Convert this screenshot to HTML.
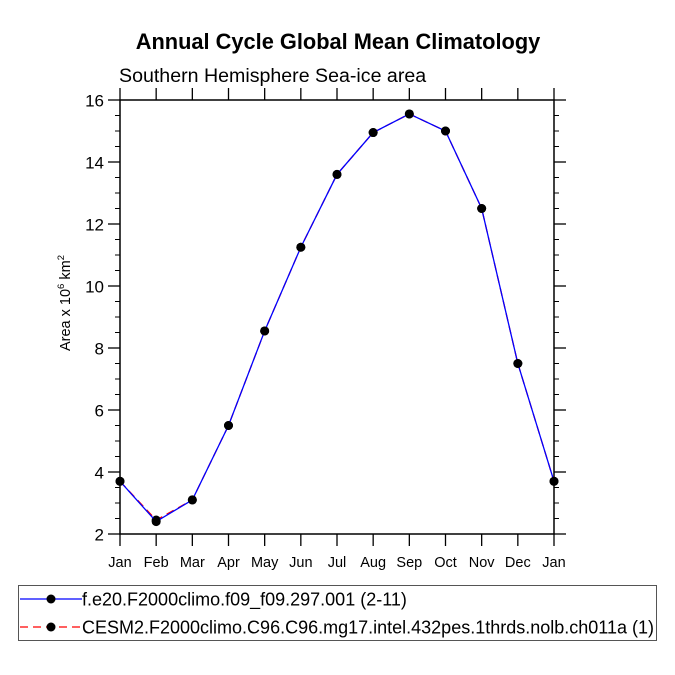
<!DOCTYPE html>
<html><head><meta charset="utf-8"><style>
html,body{margin:0;padding:0;background:#fff;}
svg{display:block;font-family:"Liberation Sans",Arial,sans-serif;}
</style></head><body>
<svg id="chart" width="675" height="675" viewBox="0 0 675 675">
<text x="338" y="49" text-anchor="middle" font-size="21.8" font-weight="bold">Annual Cycle Global Mean Climatology</text>
<text x="119" y="82" font-size="19.6">Southern Hemisphere Sea-ice area</text>
<text transform="translate(70,303) rotate(-90)" text-anchor="middle" font-size="14.5">Area x 10<tspan font-size="9.5" dy="-6">6</tspan><tspan dy="6"> km</tspan><tspan font-size="9.5" dy="-6">2</tspan></text>
<g id="axes"></g>
<g id="series"></g>
<g>
<rect x="18.5" y="585.5" width="638" height="55" fill="none" stroke="#555"/>
<g>
<line x1="20" y1="599" x2="82" y2="599" stroke="#0000ff" stroke-width="1.3"/>
<circle cx="51" cy="599" r="4.5" fill="#000"/>
<text x="82" y="605.5" font-size="18">f.e20.F2000climo.f09_f09.297.001 (2-11)</text>
</g>
<g>
<line x1="20" y1="627" x2="82" y2="627" stroke="#ff0000" stroke-width="1.3" stroke-dasharray="8,5"/>
<circle cx="51" cy="627" r="4.5" fill="#000"/>
<text x="82" y="633.5" font-size="18">CESM2.F2000climo.C96.C96.mg17.intel.432pes.1thrds.nolb.ch011a (1)</text>
</g>
</g>
</svg>
<script>
const months = ["Jan","Feb","Mar","Apr","May","Jun","Jul","Aug","Sep","Oct","Nov","Dec","Jan"];
const seriesA = [3.7,2.4,3.1,5.5,8.55,11.25,13.6,14.95,15.55,15.0,12.5,7.5,3.7];
const seriesB = [3.7,2.45,3.1,5.5,8.55,11.25,13.6,14.95,15.55,15.0,12.5,7.5,3.7];
const yTicks = [2,4,6,8,10,12,14,16];
const NS='http://www.w3.org/2000/svg';
const L=120,R=554,T=100,B=534,ymin=2,ymax=16;
function xs(i){return L+(R-L)*i/(months.length-1);}
function ys(v){return B-(B-T)*(v-ymin)/(ymax-ymin);}
function mk(tag,attrs,parent){const e=document.createElementNS(NS,tag);for(const k in attrs)e.setAttribute(k,attrs[k]);parent.appendChild(e);return e;}
const ax=document.getElementById('axes');
const frame=mk('rect',{x:L,y:T,width:R-L,height:B-T,fill:'none',stroke:'#000','stroke-width':1.5},ax);


for(let v=ymin;v<=ymax+0.001;v+=0.5){
  const major=Math.abs(v-Math.round(v/2)*2)<0.001;
  const len=major?12:5, y=ys(v);
  mk('line',{x1:L-len,y1:y,x2:L,y2:y,stroke:'#000','stroke-width':major?1.3:1},ax);
  mk('line',{x1:R,y1:y,x2:R+len,y2:y,stroke:'#000','stroke-width':major?1.3:1},ax);
}
yTicks.forEach(v=>{
  const t=mk('text',{x:L-16,y:ys(v)+6.5,'text-anchor':'end','font-size':17},ax);
  t.textContent=v;
  
  
});
months.forEach((m,i)=>{
  const x=xs(i);
  mk('line',{x1:x,y1:B,x2:x,y2:B+12,stroke:'#000','stroke-width':1.3},ax);
  mk('line',{x1:x,y1:T-12,x2:x,y2:T,stroke:'#000','stroke-width':1.3},ax);
  const t=mk('text',{x:x,y:B+33,'text-anchor':'middle','font-size':14.5},ax);
  t.textContent=m;
  
  
});
const sg=document.getElementById('series');
function draw(vals,color,dash,name){
  const p=mk('polyline',{points:vals.map((v,i)=>xs(i)+','+ys(v)).join(' '),fill:'none',stroke:color,'stroke-width':1.3},sg);
  if(dash)p.setAttribute('stroke-dasharray',dash);
  
  
  vals.forEach((v,i)=>{
    const c=mk('circle',{cx:xs(i),cy:ys(v),r:4.5,fill:'#000'},sg);
    
    
  });
}
draw(seriesB,'#ff0000','8,5','series-cesm2');
draw(seriesA,'#0000ff',null,'series-fe20');
</script>
</body></html>
